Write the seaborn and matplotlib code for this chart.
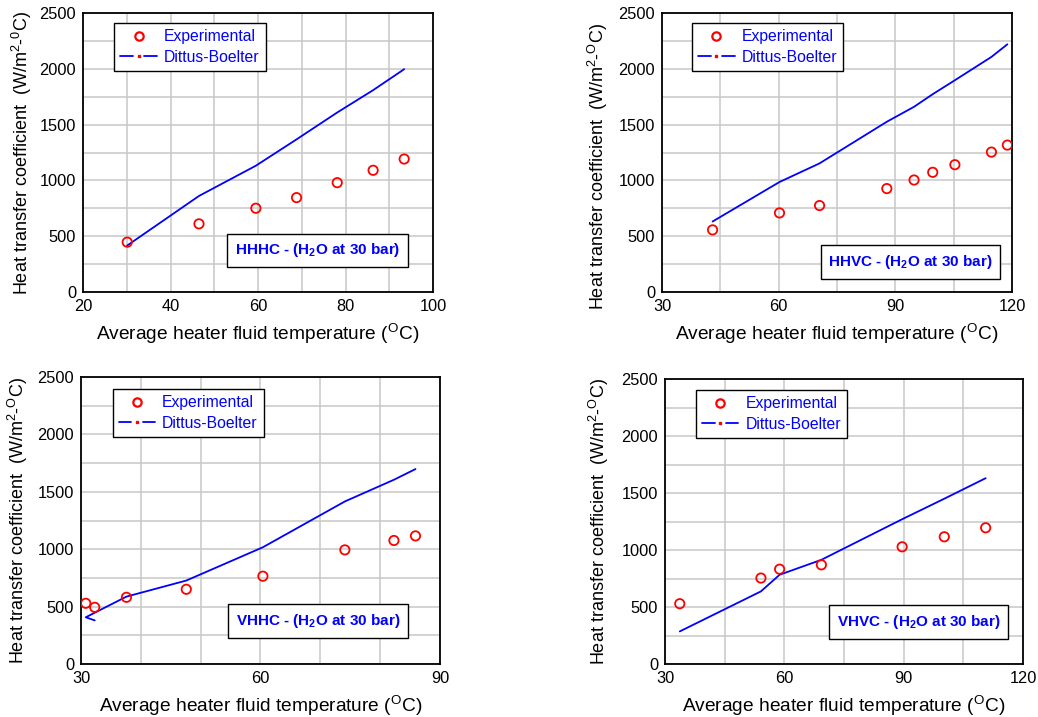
import matplotlib
matplotlib.use('Agg')
import matplotlib.pyplot as plt
from matplotlib.lines import Line2D
from matplotlib.legend_handler import HandlerBase
from matplotlib.ticker import MultipleLocator, NullFormatter
import seaborn as sns
import pandas as pd

# HHHC - horizontal heater, horizontal cooler
hhhc_temp = [30.1, 46.5, 59.5, 68.8, 78.1, 86.3, 93.4]
hhhc_exp = [447, 611, 751, 846, 980, 1091, 1192]
hhhc_db = [417, 861, 1132, 1368, 1609, 1809, 1997]

# HHVC
hhvc_temp = [43.0, 60.2, 70.5, 87.8, 94.8, 99.6, 105.3, 114.7, 118.8]
hhvc_exp = [557, 709, 775, 927, 1004, 1073, 1141, 1254, 1317]
hhvc_db = [632, 986, 1153, 1526, 1660, 1773, 1898, 2107, 2220]

# VHHC
vhhc_temp = [32.3, 30.8, 37.6, 47.6, 60.4, 74.1, 82.3, 85.9]
vhhc_exp = [494, 529, 581, 651, 765, 994, 1076, 1116]
vhhc_db = [380, 407, 587, 727, 1017, 1416, 1605, 1698]

# VHVC
vhvc_temp = [33.7, 54.1, 58.8, 69.3, 89.6, 100.2, 110.6]
vhvc_exp = [529, 754, 832, 870, 1028, 1116, 1195]
vhvc_db = [286, 637, 783, 914, 1270, 1450, 1630]

sns.set_theme(style='white')
plt.rcParams['font.family'] = ['Liberation Sans', 'DejaVu Sans']
plt.rcParams['mathtext.fontset'] = 'custom'
plt.rcParams['mathtext.rm'] = 'Liberation Sans'
plt.rcParams['mathtext.it'] = 'Liberation Sans:italic'
plt.rcParams['mathtext.bf'] = 'Liberation Sans:bold'
plt.rcParams['mathtext.default'] = 'regular'


class DashDotHandler(HandlerBase):
    # blue dash - red dot - blue dash, like the original legend sample
    def create_artists(self, legend, orig_handle, xdescent, ydescent, width, height,
                       fontsize, trans):
        y = height / 2 - ydescent
        x0 = -xdescent
        l1 = Line2D([x0, x0 + 0.34 * width], [y, y], color='blue', lw=1.3)
        l2 = Line2D([x0 + 0.66 * width, x0 + width], [y, y], color='blue', lw=1.3)
        d = Line2D([x0 + 0.5 * width], [y], ls='none', marker='s', ms=1.8, color='red')
        for a in (l1, l2, d):
            a.set_transform(trans)
        return [l1, l2, d]


panels = [
    dict(name='HHHC', t=hhhc_temp, e=hhhc_exp, d=hhhc_db, xlim=(20, 100), xmaj=20, xmin=10,
         pos=[0.0800, 0.5927, 0.3372, 0.3891], leg=(0.089, 0.964), ann=(0.669, 0.149),
         ylab=(-0.14, 0.5), deg='0'),
    dict(name='HHVC', t=hhvc_temp, e=hhvc_exp, d=hhvc_db, xlim=(30, 120), xmaj=30, xmin=15,
         pos=[0.6378, 0.5927, 0.3372, 0.3891], leg=(0.086, 0.964), ann=(0.710, 0.108),
         ylab=(-0.15, 0.45), deg='O'),
    dict(name='VHHC', t=vhhc_temp, e=vhhc_exp, d=vhhc_db, xlim=(30, 90), xmaj=30, xmin=10,
         pos=[0.0780, 0.0739, 0.3459, 0.4003], leg=(0.088, 0.959), ann=(0.660, 0.150),
         ylab=(-0.142, 0.5), deg='O'),
    dict(name='VHVC', t=vhvc_temp, e=vhvc_exp, d=vhvc_db, xlim=(30, 120), xmaj=30, xmin=15,
         pos=[0.6407, 0.0739, 0.3449, 0.3975], leg=(0.0866, 0.961), ann=(0.709, 0.147),
         ylab=(-0.15, 0.5), deg='O'),
]

fig = plt.figure(figsize=(10.38, 7.17), dpi=100)

for p in panels:
    ax = fig.add_axes(p['pos'])
    df = pd.DataFrame({'temp': p['t'], 'exp': p['e'], 'db': p['d']})
    sns.lineplot(data=df, x='temp', y='db', sort=False, estimator=None, color='blue',
                 lw=1.3, ax=ax, zorder=3)
    sns.scatterplot(data=df, x='temp', y='exp', marker='o', s=45, facecolor='none',
                    edgecolor='red', linewidth=1.3, ax=ax, zorder=4)

    ax.set_xlim(*p['xlim'])
    ax.set_ylim(0, 2500)
    ax.xaxis.set_major_locator(MultipleLocator(p['xmaj']))
    ax.xaxis.set_minor_locator(MultipleLocator(p['xmin']))
    ax.yaxis.set_major_locator(MultipleLocator(500))
    ax.yaxis.set_minor_locator(MultipleLocator(250))
    ax.xaxis.set_minor_formatter(NullFormatter())
    ax.grid(True, which='both', color='#c8c8c8', lw=1.1)
    ax.set_axisbelow(True)
    ax.tick_params(which='both', length=0, labelsize=11.8, colors='black', pad=5)
    for s in ax.spines.values():
        s.set_color('black')
        s.set_linewidth(1.3)

    ax.set_xlabel('Average heater fluid temperature ($^O$C)', fontsize=13.8, color='black')
    ax.set_ylabel('Heat transfer coefficient  (W/m$^2$-$^%s$C)' % p['deg'], fontsize=13,
                  color='black')
    ax.yaxis.set_label_coords(*p['ylab'])
    ax.xaxis.labelpad = 6

    h_exp = Line2D([], [], ls='none', marker='o', mfc='none', mec='red', mew=1.6, ms=6)
    h_db = object()
    ax.legend([h_exp, h_db], ['Experimental', 'Dittus-Boelter'],
              handler_map={h_db: DashDotHandler()},
              loc='upper left', bbox_to_anchor=p['leg'], borderaxespad=0,
              fontsize=11.3, labelcolor='blue', frameon=True, fancybox=False,
              edgecolor='black', framealpha=1, handlelength=2.3, handletextpad=0.45,
              labelspacing=0.35, borderpad=0.4)
    ax.get_legend().get_frame().set_linewidth(1.0)

    ax.text(p['ann'][0], p['ann'][1], p['name'] + r' - (H$_\mathbf{2}$O at 30 bar)',
            transform=ax.transAxes, ha='center', va='center', color='blue',
            fontweight='bold', fontsize=11, zorder=5,
            bbox=dict(boxstyle='square,pad=0.5', fc='white', ec='black', lw=1.0))

fig.savefig('out.png', dpi=100)
